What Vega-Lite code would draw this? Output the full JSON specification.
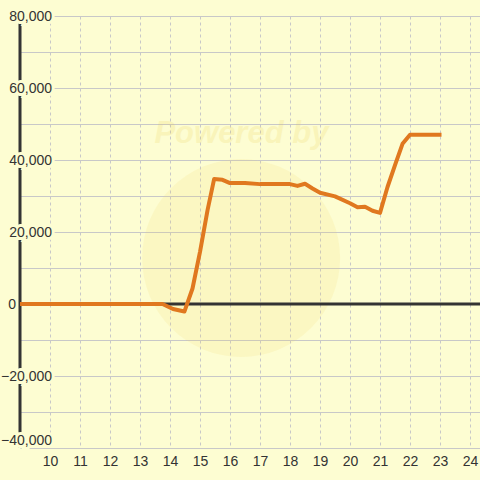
{
  "$schema": "https://vega.github.io/schema/vega-lite/v6.json",
  "width": 460,
  "height": 432,
  "autosize": {"type": "none"},
  "padding": {"left": 20, "top": 16, "right": 0, "bottom": 32},
  "background": "#fdfdd2",
  "config": {
    "view": {"stroke": null},
    "font": "Liberation Sans",
    "axis": {"domain": false, "ticks": false, "grid": true, "gridColor": "#c8c8c8", "gridWidth": 1},
    "axisX": {"tickCount": 15, "gridDash": [3, 3], "labelFontSize": 14, "labelColor": "#333333", "labelPadding": 6, "labelBaseline": "top", "labelFlush": false, "labelOverlap": false, "labelExpr": "datum.value < 9.5 ? '' : datum.label"},
    "axisY": {"tickCount": 12, "labels": false}
  },
  "datasets": {
    "series": [
      {"x": 9.0, "y": 0},
      {"x": 13.75, "y": 0},
      {"x": 14.1, "y": -1400},
      {"x": 14.48, "y": -2100},
      {"x": 14.75, "y": 4300},
      {"x": 15.0, "y": 14500},
      {"x": 15.25, "y": 26000},
      {"x": 15.47, "y": 34700},
      {"x": 15.75, "y": 34500},
      {"x": 16.0, "y": 33600},
      {"x": 16.5, "y": 33600},
      {"x": 17.0, "y": 33300},
      {"x": 17.5, "y": 33300},
      {"x": 18.0, "y": 33300},
      {"x": 18.25, "y": 32800},
      {"x": 18.5, "y": 33400},
      {"x": 18.75, "y": 32100},
      {"x": 19.0, "y": 30900},
      {"x": 19.5, "y": 29900},
      {"x": 20.0, "y": 28000},
      {"x": 20.25, "y": 26900},
      {"x": 20.5, "y": 27000},
      {"x": 20.75, "y": 25900},
      {"x": 21.0, "y": 25300},
      {"x": 21.25, "y": 32500},
      {"x": 21.5, "y": 38600},
      {"x": 21.75, "y": 44500},
      {"x": 22.0, "y": 47000},
      {"x": 23.05, "y": 47000}
    ],
    "mark": [
      {"label": "Powered by"}
    ],
    "ylabels": [
      {"v": -40000}, {"v": -20000}, {"v": 0}, {"v": 20000}, {"v": 40000}, {"v": 60000}, {"v": 80000}
    ]
  },
  "layer": [
    {
      "data": {"name": "mark"},
      "mark": {"type": "point", "shape": "circle", "filled": true, "size": 39200, "color": "#f0cf5a", "opacity": 0.13},
      "encoding": {
        "x": {"datum": 16.37, "type": "quantitative", "title": null, "scale": {"domain": [9, 24.333], "nice": false, "zero": false}},
        "y": {"datum": 12780, "type": "quantitative", "title": null, "scale": {"domain": [-40000, 80000], "nice": false, "zero": false}}
      }
    },
    {
      "data": {"name": "mark"},
      "mark": {"type": "text", "font": "Liberation Sans", "fontSize": 31, "fontWeight": "bold", "fontStyle": "italic", "baseline": "alphabetic", "align": "center", "color": "#e8c840", "opacity": 0.16},
      "encoding": {
        "x": {"datum": 16.38, "type": "quantitative", "title": null},
        "y": {"datum": 44700, "type": "quantitative", "title": null},
        "text": {"field": "label"}
      }
    },
    {
      "data": {"name": "mark"},
      "mark": {"type": "rule", "color": "#333333", "strokeWidth": 3},
      "encoding": {"y": {"datum": 0, "type": "quantitative", "title": null}}
    },
    {
      "data": {"name": "mark"},
      "mark": {"type": "rule", "color": "#333333", "strokeWidth": 3},
      "encoding": {"x": {"datum": 9, "type": "quantitative", "title": null}}
    },
    {
      "data": {"name": "series"},
      "mark": {"type": "line", "color": "#e0781f", "strokeWidth": 4, "strokeJoin": "round", "strokeCap": "butt"},
      "encoding": {
        "x": {"field": "x", "type": "quantitative", "title": null},
        "y": {"field": "y", "type": "quantitative", "title": null}
      }
    },
    {
      "data": {"name": "ylabels"},
      "transform": [{"filter": "datum.v !== 0 && datum.v !== -40000"}],
      "mark": {"type": "text", "font": "Liberation Sans", "fontSize": 14, "align": "right", "baseline": "middle", "dx": 32, "dy": 1, "fill": "#fdfdd2", "stroke": "#fdfdd2", "strokeWidth": 6},
      "encoding": {
        "x": {"datum": 9, "type": "quantitative", "title": null},
        "y": {"field": "v", "type": "quantitative", "title": null},
        "text": {"field": "v", "type": "quantitative", "format": ","}
      }
    },
    {
      "data": {"name": "ylabels"},
      "transform": [{"filter": "datum.v === -40000"}],
      "mark": {"type": "text", "font": "Liberation Sans", "fontSize": 14, "align": "right", "baseline": "bottom", "dx": 32, "dy": 0, "fill": "#fdfdd2", "stroke": "#fdfdd2", "strokeWidth": 6},
      "encoding": {
        "x": {"datum": 9, "type": "quantitative", "title": null},
        "y": {"field": "v", "type": "quantitative", "title": null},
        "text": {"field": "v", "type": "quantitative", "format": ","}
      }
    },
    {
      "data": {"name": "ylabels"},
      "transform": [{"filter": "datum.v !== 0 && datum.v !== -40000"}],
      "mark": {"type": "text", "font": "Liberation Sans", "fontSize": 14, "align": "right", "baseline": "middle", "dx": 32, "dy": 1, "color": "#333333"},
      "encoding": {
        "x": {"datum": 9, "type": "quantitative", "title": null},
        "y": {"field": "v", "type": "quantitative", "title": null},
        "text": {"field": "v", "type": "quantitative", "format": ","}
      }
    },
    {
      "data": {"name": "ylabels"},
      "transform": [{"filter": "datum.v === -40000"}],
      "mark": {"type": "text", "font": "Liberation Sans", "fontSize": 14, "align": "right", "baseline": "bottom", "dx": 32, "dy": 0, "color": "#333333"},
      "encoding": {
        "x": {"datum": 9, "type": "quantitative", "title": null},
        "y": {"field": "v", "type": "quantitative", "title": null},
        "text": {"field": "v", "type": "quantitative", "format": ","}
      }
    },
    {
      "data": {"name": "ylabels"},
      "transform": [{"filter": "datum.v === 0"}],
      "mark": {"type": "text", "font": "Liberation Sans", "fontSize": 14, "align": "right", "baseline": "middle", "dx": -4, "dy": 1, "color": "#333333"},
      "encoding": {
        "x": {"datum": 9, "type": "quantitative", "title": null},
        "y": {"field": "v", "type": "quantitative", "title": null},
        "text": {"field": "v", "type": "quantitative", "format": ","}
      }
    }
  ]
}
